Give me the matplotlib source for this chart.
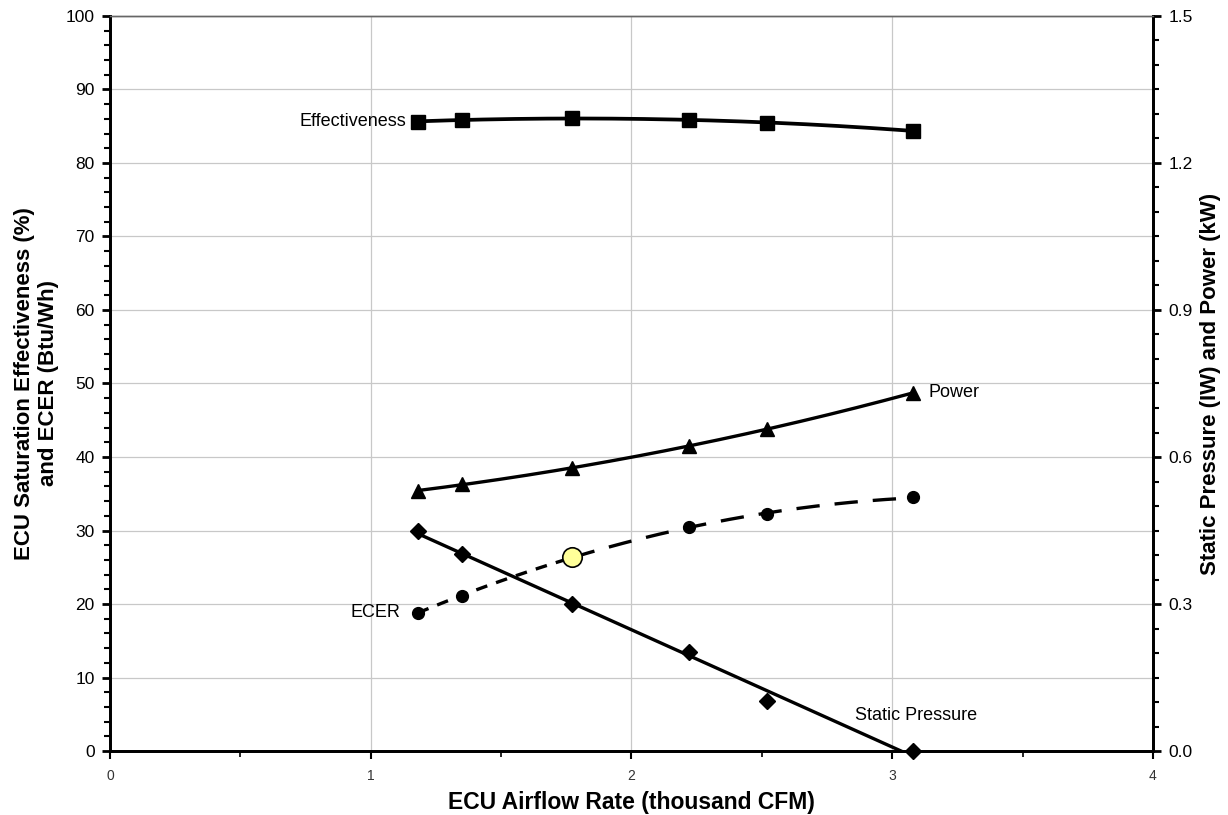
import matplotlib
matplotlib.use("Agg")
import matplotlib.pyplot as plt
import numpy as np
from matplotlib.ticker import MultipleLocator

plt.rcParams['font.family'] = ['Liberation Sans', 'DejaVu Sans']

# ECU airflow (thousand CFM)
airflow = [1.18, 1.35, 1.77, 2.22, 2.52, 3.08]
# left axis
effectiveness = [85.6, 85.9, 86.1, 85.9, 85.4, 84.4]
ecer = [18.8, 21.1, 26.4, 30.5, 32.2, 34.5]
# right axis
power_kw = [0.531, 0.544, 0.578, 0.622, 0.657, 0.731]
static_iw = [0.449, 0.402, 0.300, 0.202, 0.103, 0.0]
highlight = 2  # index of the highlighted ECER point

x = np.array(airflow)
xs = np.linspace(x[0], x[-1], 200)

fig = plt.figure(figsize=(12.28, 8.15), dpi=100)
ax = fig.add_axes([0.0896, 0.0785, 0.8493, 0.9019])
ax2 = ax.twinx()

LW = 2.4

# Effectiveness (poly trend)
c = np.polyfit(x, effectiveness, 2)
ax.plot(xs, np.polyval(c, xs), color='black', lw=LW + 0.3)
ax.plot(x, effectiveness, 's', color='black', ms=10)

# ECER (poly trend, dotted then dashed)
c = np.polyfit(x, ecer, 2)
xa = xs[xs <= x[highlight]]
xb = xs[xs >= x[highlight]]
ax.plot(xa, np.polyval(c, xa), color='black', lw=LW, dashes=(3.5, 2.8))
ax.plot(xb, np.polyval(c, xb), color='black', lw=LW, dashes=(7, 4.5))
ax.plot(x, ecer, 'o', color='black', ms=8.5)
ax.plot(x[highlight], ecer[highlight], 'o', mfc='#ffff99', mec='black', mew=1.2, ms=14)

# Power (poly trend)
c = np.polyfit(x, power_kw, 2)
ax2.plot(xs, np.polyval(c, xs), color='black', lw=LW)
ax2.plot(x, power_kw, '^', color='black', ms=10.5)

# Static pressure (linear trend)
c = np.polyfit(x, static_iw, 1)
ax2.plot(xs, np.polyval(c, xs), color='black', lw=LW)
ax2.plot(x, static_iw, 'D', color='black', ms=8, clip_on=False)

fs = 13
ax.text(x[0] - 0.045, effectiveness[0], 'Effectiveness', ha='right', va='center', fontsize=fs)
ax.text(x[0] - 0.065, ecer[0], 'ECER', ha='right', va='center', fontsize=fs)
ax2.text(x[-1] + 0.06, power_kw[-1], 'Power', ha='left', va='center', fontsize=fs)
ax.text(3.09, 4.9, 'Static Pressure', ha='center', va='center', fontsize=fs)

ax.set_xlim(0, 4)
ax.set_ylim(0, 100)
ax2.set_ylim(0, 1.5)
ax.xaxis.set_major_locator(MultipleLocator(1))
ax.xaxis.set_minor_locator(MultipleLocator(0.5))
ax.yaxis.set_major_locator(MultipleLocator(10))
ax.yaxis.set_minor_locator(MultipleLocator(2))
ax2.yaxis.set_major_locator(MultipleLocator(0.3))
ax2.yaxis.set_minor_locator(MultipleLocator(0.05))
ax2.yaxis.set_major_formatter(plt.FuncFormatter(lambda v, p: f'{v:.1f}'))

ax.grid(True, which='major', color='#c8c8c8', lw=0.9)
ax.set_axisbelow(True)

for a in (ax, ax2):
    a.spines['top'].set_color('#666666')
    a.spines['top'].set_linewidth(1.0)
    a.spines['left'].set_linewidth(2)
    a.spines['bottom'].set_linewidth(2)
    a.spines['right'].set_linewidth(2)

ax.tick_params(axis='y', which='major', length=6, width=2, labelsize=12.5, pad=5)
ax.tick_params(axis='y', which='minor', length=4, width=1.5)
ax.tick_params(axis='x', which='major', length=6, width=1.5, labelsize=10, pad=7, labelcolor='#333333')
ax.tick_params(axis='x', which='minor', length=4, width=1.2)
ax2.tick_params(axis='y', which='major', length=6, width=2, labelsize=12.5, pad=5)
ax2.tick_params(axis='y', which='minor', length=4, width=1.5)

ax.set_xlabel('ECU Airflow Rate (thousand CFM)', fontsize=16.5, fontweight='bold', labelpad=6)
ax.set_ylabel('ECU Saturation Effectiveness (%)\nand ECER (Btu/Wh)', fontsize=16, fontweight='bold', labelpad=5)
ax2.set_ylabel('Static Pressure (IW) and Power (kW)', fontsize=16, fontweight='bold', labelpad=5)

fig.savefig('out.png', dpi=100)
